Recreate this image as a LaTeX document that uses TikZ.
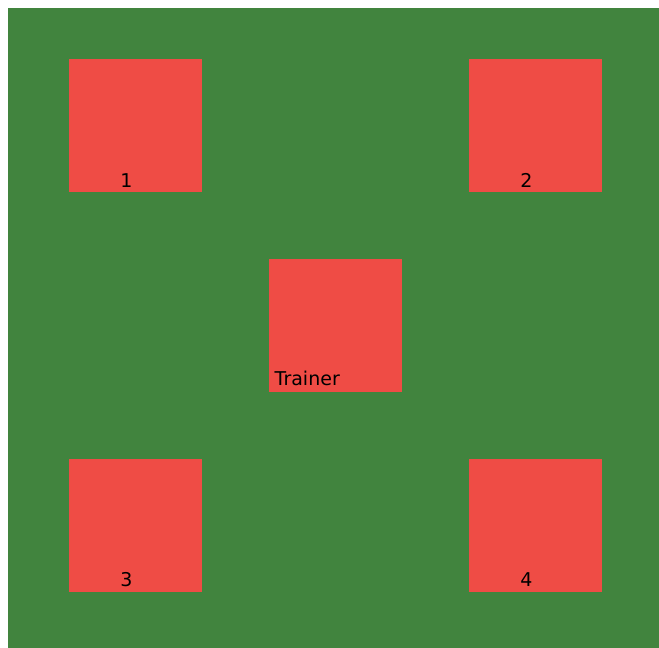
\documentclass[tikz,border=0pt]{standalone}
\usepackage{fontspec}
\setmainfont{DejaVu Sans}
\definecolor{fieldgreen}{RGB}{65,132,62}
\definecolor{boxred}{RGB}{239,76,69}
\begin{document}
\begin{tikzpicture}[x=1pt,y=-1pt,
  station/.style={fill=boxred,draw=none,minimum size=133pt,inner sep=0pt,outer sep=0pt,anchor=north west},
  lbl/.style={font=\fontsize{19}{21}\selectfont,text=black,inner sep=0pt}]
\useasboundingbox (0,0) rectangle (659,648);
\fill[fieldgreen] (8,8) rectangle (659,648);
\node[station] (s1) at (69,59) {};
\node[station] (s2) at (469,59) {};
\node[station] (tr) at (269,259) {};
\node[station] (s3) at (69,459) {};
\node[station] (s4) at (469,459) {};
\node[lbl,anchor=base] (l1) at (126.5,187) {1};
\node[lbl,anchor=base] (l2) at (526.5,187) {2};
\node[lbl,anchor=base] (l3) at (126.5,586) {3};
\node[lbl,anchor=base] (l4) at (526.5,586) {4};
\node[lbl,anchor=base west] (lt) at (274.5,385) {Trainer};
\end{tikzpicture}
\end{document}
